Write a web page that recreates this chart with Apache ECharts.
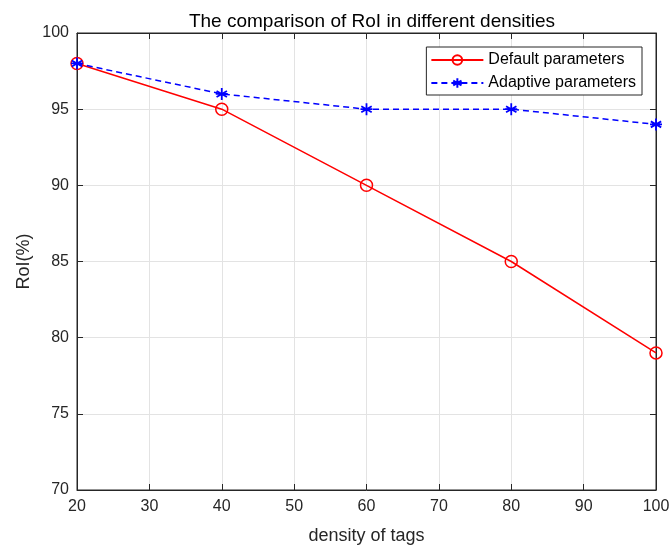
<!DOCTYPE html>
<html>
<head>
<meta charset="utf-8">
<script src="https://cdn.jsdelivr.net/npm/echarts@6/dist/echarts.min.js"></script>
<style>html,body{margin:0;padding:0;background:#fff}#main{width:670px;height:548px}</style>
</head>
<body>
<div id="main"></div>
<script>
// densities and RoI values
const densities = [20, 40, 60, 80, 100];
const defaultRoI = [98, 95, 90, 85, 79];
const adaptiveRoI = [98, 96, 95, 95, 94];
const xTicks = [20, 30, 40, 50, 60, 70, 80, 90, 100];
const yTicks = [70, 75, 80, 85, 90, 95, 100];

const font = 'Arial, "Liberation Sans", sans-serif';
const axisCol = '#262626';
const star = 'path://M0,-5L0,5M-4.33,-2.5L4.33,2.5M-4.33,2.5L4.33,-2.5M-5,0L5,0';

const tickStyle = {show: true, inside: true, length: 6, lineStyle: {color: axisCol}};

const chart = echarts.init(document.getElementById('main'));
chart.setOption({
  animation: false,
  title: {
    text: 'The comparison of RoI in different densities',
    left: 367, top: 7, textAlign: 'center',
    textStyle: {fontFamily: font, fontSize: 19, fontWeight: 'normal', color: '#000'}
  },
  grid: {left: 77, right: 14, top: 33, bottom: 58, show: true, borderColor: axisCol, borderWidth: 1,
    outerBoundsMode: 'none', containLabel: false},
  legend: {
    right: 28, top: 47, orient: 'vertical', itemGap: 7,
    itemWidth: 52, itemHeight: 12,
    backgroundColor: '#fff', borderColor: axisCol, borderWidth: 1, borderRadius: 0,
    padding: [5, 6, 4, 4],
    textStyle: {fontFamily: font, fontSize: 16, color: '#000'}
  },
  xAxis: [{
    type: 'value', min: 20, max: 100, interval: 10,
    name: 'density of tags', nameLocation: 'middle', nameGap: 37,
    nameTextStyle: {fontFamily: font, fontSize: 18, color: '#262626'},
    axisLine: {show: true, onZero: false, lineStyle: {color: axisCol}},
    axisTick: tickStyle,
    axisLabel: {fontFamily: font, fontSize: 16, color: '#262626', margin: 9,
      formatter: v => xTicks.includes(v) ? String(v) : ''},
    splitLine: {show: true, lineStyle: {color: '#e3e3e3'}}
  }, {
    type: 'value', min: 20, max: 100, interval: 10, position: 'top',
    axisLine: {show: true, onZero: false, lineStyle: {color: axisCol}},
    axisTick: tickStyle, axisLabel: {show: false}, splitLine: {show: false}
  }],
  yAxis: [{
    type: 'value', min: 70, max: 100, interval: 5,
    name: 'RoI(%)', nameLocation: 'middle', nameGap: 44, nameMoveOverlap: false,
    nameTextStyle: {fontFamily: font, fontSize: 18, color: '#262626'},
    axisLine: {show: true, onZero: false, lineStyle: {color: axisCol}},
    axisTick: tickStyle,
    axisLabel: {fontFamily: font, fontSize: 16, color: '#262626', margin: 8,
      formatter: v => yTicks.includes(v) ? String(v) : ''},
    splitLine: {show: true, lineStyle: {color: '#e3e3e3'}}
  }, {
    type: 'value', min: 70, max: 100, interval: 5, position: 'right',
    axisLine: {show: true, onZero: false, lineStyle: {color: axisCol}},
    axisTick: tickStyle, axisLabel: {show: false}, splitLine: {show: false}
  }],
  series: [
    {
      name: 'Default parameters', type: 'line',
      data: densities.map((d, i) => [d, defaultRoI[i]]),
      symbol: 'circle', symbolSize: 12, showAllSymbol: true,
      lineStyle: {color: '#ff0000', width: 1.5},
      itemStyle: {color: 'rgba(255,255,255,0)', borderColor: '#ff0000', borderWidth: 1.5}
    },
    {
      name: 'Adaptive parameters', type: 'line',
      data: densities.map((d, i) => [d, adaptiveRoI[i]]),
      symbol: star, symbolSize: 12, showAllSymbol: true,
      lineStyle: {color: '#0000ff', width: 1.5, type: [6, 4]},
      itemStyle: {color: '#0000ff', borderColor: '#0000ff', borderWidth: 1.8}
    }
  ]
});
</script>
</body>
</html>
